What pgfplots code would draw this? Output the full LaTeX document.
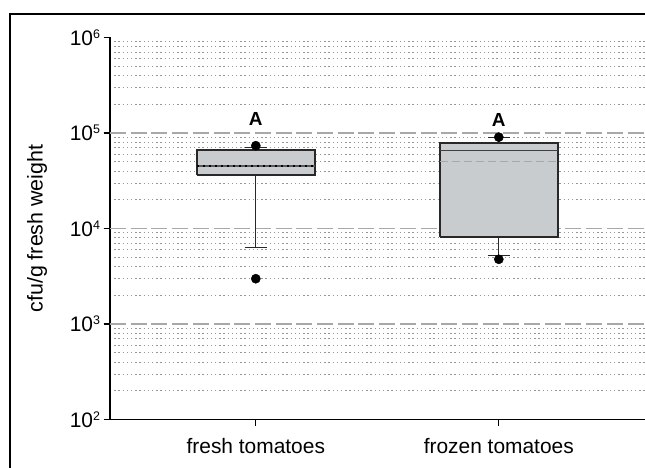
\documentclass[border=0pt]{standalone}
\usepackage{fontspec}
\setmainfont{Liberation Sans}
\usepackage{pgfplots}
\pgfplotsset{compat=1.18}
\definecolor{boxgray}{RGB}{201,204,207}
\definecolor{majgray}{RGB}{168,168,168}
\definecolor{mingray}{RGB}{150,150,150}
\definecolor{edge}{RGB}{40,40,40}
\newcommand{\tenpow}[1]{10\raisebox{7.2bp}{\fontsize{12.5}{12.5}\selectfont #1}}
\begin{document}
\begin{tikzpicture}
\useasboundingbox (0,0) rectangle (645bp,468bp);
\clip (0,0) rectangle (645bp,468bp);
\draw[line width=2bp] (10bp,454bp) rectangle (900bp,-100bp);
\begin{axis}[
  at={(110bp,48.5bp)}, anchor=south west,
  scale only axis, width=535bp, height=382bp,
  xmin=0.4, xmax=2.6016,
  ymode=log, ymin=100, ymax=1e6,
  axis lines=left,
  axis line style={-, line width=1.3bp, black},
  tick align=outside,
  major tick length=6.5bp, minor tick length=0pt,
  tick style={black, line width=1.2bp},
  xtick={1,2},
  xticklabels={fresh tomatoes, frozen tomatoes},
  xticklabel style={font=\fontsize{21}{23}\selectfont, yshift=-8.5bp},
  ytick={1e2,1e3,1e4,1e5,1e6},
  yticklabels={\tenpow{2},\tenpow{3},\tenpow{4},\tenpow{5},\tenpow{6}},
  yticklabel style={font=\fontsize{21}{22}\selectfont},
  minor ytick={200,300,400,500,600,700,800,900,2000,3000,4000,5000,6000,7000,8000,9000,20000,30000,40000,50000,60000,70000,80000,90000,200000,300000,400000,500000,600000,700000,800000,900000},
  yminorgrids=true,
  minor grid style={mingray, dash pattern=on 1.4bp off 2.8bp, line width=0.8bp},
  extra y ticks={1e3,1e4,1e5},
  extra y tick labels={},
  extra y tick style={ymajorgrids=true, major grid style={majgray, dash pattern=on 16bp off 4.7bp, line width=1.6bp}},
  ylabel={cfu/g fresh weight},
  every axis y label/.style={at={(axis description cs:-0.1364,0.5)}, anchor=center, rotate=90, font=\fontsize{21.5}{23}\selectfont},
]
% ---- fresh tomatoes: Q1 36300, median 45100, Q3 65900, whiskers 6350 / 70100
\addplot[edge, line width=1.2bp] coordinates {(1,36300) (1,6350)};
\addplot[edge, line width=1.2bp] coordinates {(0.955,6350) (1.045,6350)};
\addplot[edge, line width=1.2bp] coordinates {(1,65900) (1,70100)};
\addplot[edge, line width=1.2bp] coordinates {(0.955,70100) (1.045,70100)};
\addplot[fill=boxgray, draw=edge, line width=1.8bp] coordinates {(0.757,36300) (1.243,36300) (1.243,65900) (0.757,65900) (0.757,36300)};
\addplot[black!65, line width=1.5bp] coordinates {(0.757,45100) (1.243,45100)};
\addplot[black, dash pattern=on 2bp off 4bp, line width=1.1bp] coordinates {(0.76,45100) (1.24,45100)};
\addplot[only marks, mark=*, mark size=4.6bp, mark options={fill=black, draw=black}] coordinates {(1,73600) (1,2980)};
% ---- frozen tomatoes: Q1 8090, median 65300, Q3 78000, whiskers 5240 / 89300
\addplot[edge, line width=1.2bp] coordinates {(2,8090) (2,5240)};
\addplot[edge, line width=1.2bp] coordinates {(1.955,5240) (2.045,5240)};
\addplot[edge, line width=1.2bp] coordinates {(2,78000) (2,89300)};
\addplot[edge, line width=1.2bp] coordinates {(1.955,89300) (2.045,89300)};
\addplot[fill=boxgray, draw=edge, line width=1.8bp] coordinates {(1.757,8090) (2.243,8090) (2.243,78000) (1.757,78000) (1.757,8090)};
\addplot[black!75, line width=1.6bp] coordinates {(1.757,65300) (2.243,65300)};
\addplot[majgray, dash pattern=on 8bp off 4bp, line width=1.3bp] coordinates {(1.76,50600) (2.24,50600)};
\addplot[only marks, mark=*, mark size=4.6bp, mark options={fill=black, draw=black}] coordinates {(2,90500) (2,4760)};
\node[font=\bfseries\fontsize{19}{19}\selectfont] at (axis cs:1,1.41e5) {A};
\node[font=\bfseries\fontsize{19}{19}\selectfont] at (axis cs:2,1.36e5) {A};
\end{axis}
\end{tikzpicture}
\end{document}
